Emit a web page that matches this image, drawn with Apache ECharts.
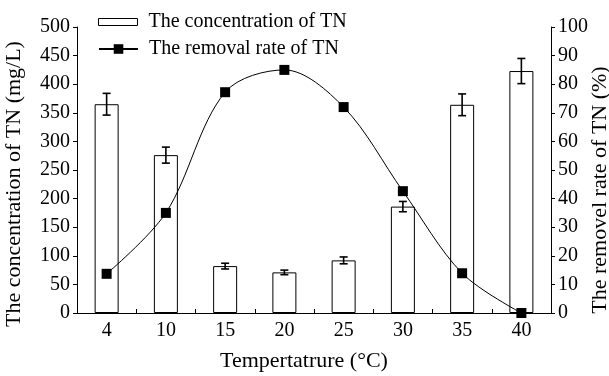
<!DOCTYPE html>
<html>
<head>
<meta charset="utf-8">
<script src="https://cdn.jsdelivr.net/npm/echarts@6/dist/echarts.min.js"></script>
<style>
  html, body { margin: 0; padding: 0; background: #fff; }
  #chart { width: 609px; height: 376px; }
</style>
</head>
<body>
<div id="chart"></div>
<script>
// Temperature groups (°C)
const temperatures = ['4', '10', '15', '20', '25', '30', '35', '40'];
// Effluent TN concentration (mg/L) and its standard deviation
const tnConcentration = [365, 276, 82, 71, 92, 186, 364, 423];
const tnConcentrationErr = [19, 14, 5, 4, 6, 9, 19, 22];
// TN removal rate (%)
const tnRemovalRate = [13.7, 35, 77.2, 85, 72, 42.6, 13.9, 0];

const FONT = "'Liberation Serif', 'Times New Roman', serif";
const INK = '#000';

const errorData = temperatures.map((t, i) => [i, tnConcentration[i] - tnConcentrationErr[i], tnConcentration[i] + tnConcentrationErr[i]]);

const chart = echarts.init(document.getElementById('chart'), null, { renderer: 'canvas' });

chart.setOption({
  animation: false,
  backgroundColor: '#fff',
  textStyle: { fontFamily: FONT, color: INK },
  grid: { left: 77, right: 58, top: 27, bottom: 63, containLabel: false, outerBoundsMode: 'none' },
  legend: [
    {
      data: ['The concentration of TN'],
      left: 98, top: 12,
      padding: 0,
      orient: 'vertical',
      selectedMode: false,
      itemWidth: 39, itemHeight: 7,
      icon: 'rect',
      itemStyle: { color: '#fff', borderColor: INK, borderWidth: 1 },
      textStyle: { fontFamily: FONT, fontSize: 20, color: INK, padding: [0, 0, 0, 6] }
    },
    {
      data: ['The removal rate of TN'],
      left: 98, top: 39,
      padding: 0,
      orient: 'vertical',
      selectedMode: false,
      itemWidth: 39, itemHeight: 12,
      textStyle: { fontFamily: FONT, fontSize: 20, color: INK, padding: [0, 0, 0, 6] }
    }
  ],
  xAxis: {
    type: 'category',
    data: temperatures,
    boundaryGap: true,
    name: 'Tempertatrure (°C)',
    nameLocation: 'middle',
    nameGap: 37,
    nameTextStyle: { fontFamily: FONT, fontSize: 22, color: INK, padding: [0, 20, 0, 0] },
    axisLine: { lineStyle: { color: INK, width: 1 } },
    axisTick: { show: true, inside: true, length: 4, alignWithLabel: false, lineStyle: { color: INK } },
    axisLabel: { fontFamily: FONT, fontSize: 20, color: INK, margin: 8 },
    splitLine: { show: false }
  },
  yAxis: [
    {
      type: 'value',
      min: 0, max: 500, interval: 50,
      name: 'The concentration of TN (mg/L)',
      nameLocation: 'middle',
      nameRotate: 90,
      nameGap: 52,
      nameTextStyle: { fontFamily: FONT, fontSize: 22, color: INK, padding: [0, 28, 0, 0] },
      axisLine: { show: true, lineStyle: { color: INK, width: 1 } },
      axisTick: { show: true, length: 4, lineStyle: { color: INK } },
      axisLabel: { fontFamily: FONT, fontSize: 20, color: INK, margin: 7 },
      splitLine: { show: false }
    },
    {
      type: 'value',
      min: 0, max: 100, interval: 10,
      position: 'right',
      name: 'The removel rate of TN (%)',
      nameLocation: 'middle',
      nameRotate: 90,
      nameGap: 38,
      nameMoveOverlap: false,
      nameTextStyle: { fontFamily: FONT, fontSize: 22, color: INK, padding: [0, 40, 0, 0] },
      axisLine: { show: true, lineStyle: { color: INK, width: 1 } },
      axisTick: { show: true, length: 4, lineStyle: { color: INK } },
      axisLabel: { fontFamily: FONT, fontSize: 20, color: INK, margin: 7 },
      splitLine: { show: false }
    }
  ],
  series: [
    {
      name: 'The concentration of TN',
      type: 'bar',
      yAxisIndex: 0,
      barWidth: 24,
      data: tnConcentration,
      itemStyle: { color: '#fff', borderColor: INK, borderWidth: 1 },
      z: 2
    },
    {
      name: 'TN concentration error',
      type: 'custom',
      yAxisIndex: 0,
      data: errorData,
      z: 3,
      renderItem: function (params, api) {
        const i = api.value(0);
        const hi = api.coord([i, api.value(2)]);
        const lo = api.coord([i, api.value(1)]);
        const hw = 4;
        const style = { stroke: INK, lineWidth: 1.6 };
        return {
          type: 'group',
          children: [
            { type: 'line', shape: { x1: hi[0], y1: hi[1], x2: lo[0], y2: lo[1] }, style: style },
            { type: 'line', shape: { x1: hi[0] - hw, y1: hi[1], x2: hi[0] + hw, y2: hi[1] }, style: style },
            { type: 'line', shape: { x1: lo[0] - hw, y1: lo[1], x2: lo[0] + hw, y2: lo[1] }, style: style }
          ]
        };
      }
    },
    {
      name: 'The removal rate of TN',
      type: 'line',
      yAxisIndex: 1,
      data: tnRemovalRate,
      smooth: 0.33,
      symbol: 'rect',
      symbolSize: 10,
      lineStyle: { color: INK, width: 1 },
      itemStyle: { color: INK },
      z: 5
    }
  ]
});
</script>
</body>
</html>
